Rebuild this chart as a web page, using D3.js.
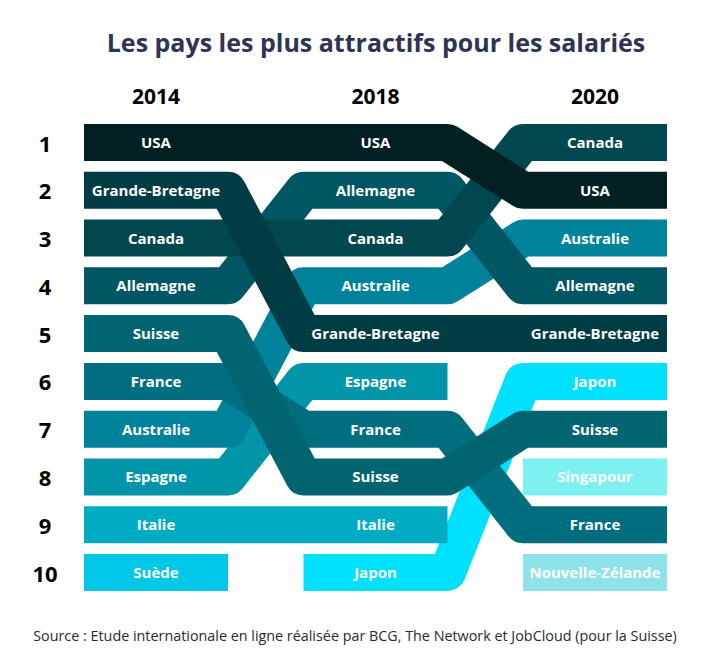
<!DOCTYPE html>
<html>
<head>
<meta charset="utf-8">
<script src="https://cdn.jsdelivr.net/npm/d3@7"></script>
<style>
body { margin: 0; background: #fff; }
text { font-family: "Open Sans", sans-serif; }
</style>
</head>
<body>
<svg id="chart" width="710" height="660"></svg>
<script>
var years = ["2014", "2018", "2020"];
var ranks = [1, 2, 3, 4, 5, 6, 7, 8, 9, 10];

// rank per year, null = not in the top 10. drawn back to front
var japon = [null, 10, 6];
var suede = [10, null, null];
var singapour = [null, null, 8];
var nouvelle_zelande = [null, null, 10];
var italie = [9, 9, null];
var espagne = [8, 6, null];
var australie = [7, 4, 3];
var france = [6, 7, 9];
var suisse = [5, 8, 7];
var allemagne = [4, 2, 4];
var canada = [3, 3, 1];
var grande_bretagne = [2, 5, 5];
var usa = [1, 1, 2];

var ribbons = [
    {name: "Japon", rank: japon, color: "#00e0ff"},
    {name: "Suède", rank: suede, color: "#00c8e6"},
    {name: "Singapour", rank: singapour, color: "#7df0f0"},
    {name: "Nouvelle-Zélande", rank: nouvelle_zelande, color: "#8ee3ea"},
    {name: "Italie", rank: italie, color: "#00abc3"},
    {name: "Espagne", rank: espagne, color: "#0095a8"},
    {name: "Australie", rank: australie, color: "#00829a"},
    {name: "France", rank: france, color: "#006e7e"},
    {name: "Suisse", rank: suisse, color: "#006471"},
    {name: "Allemagne", rank: allemagne, color: "#005662"},
    {name: "Canada", rank: canada, color: "#00474f"},
    {name: "Grande-Bretagne", rank: grande_bretagne, color: "#003c43"},
    {name: "USA", rank: usa, color: "#021f22"}
];

var svg = d3.select("#chart");
var band_width = 144;
var band_height = 37;

var x = d3.scalePoint().domain(years).range([156, 595]);
var y = d3.scalePoint().domain(ranks).range([142.5, 572.5]);

svg.append("text")
    .attr("x", 376).attr("y", 51.5)
    .attr("text-anchor", "middle")
    .attr("font-size", 25).attr("font-weight", 700)
    .attr("fill", "#2e3552")
    .text("Les pays les plus attractifs pour les salariés");

svg.selectAll("text.year")
    .data(years)
    .enter().append("text")
    .attr("class", "year")
    .attr("x", function(d) { return x(d); })
    .attr("y", 103.5)
    .attr("text-anchor", "middle")
    .attr("font-size", 21).attr("font-weight", 700)
    .attr("fill", "#000")
    .text(function(d) { return d; });

svg.selectAll("text.rank")
    .data(ranks)
    .enter().append("text")
    .attr("class", "rank")
    .attr("x", 45)
    .attr("y", function(d) { return y(d) + 9; })
    .attr("text-anchor", "middle")
    .attr("font-size", 22).attr("font-weight", 700)
    .attr("fill", "#000")
    .text(function(d) { return d; });

var line = d3.line()
    .x(function(d) { return d[0]; })
    .y(function(d) { return d[1]; });

// one centre line per ribbon, bend on each block end
function ribbon_points(rank) {
    var pts = [];
    rank.forEach(function(r, i) {
        if (r === null) return;
        pts.push([x(years[i]) - band_width / 2, y(r)]);
        pts.push([x(years[i]) + band_width / 2, y(r)]);
    });
    return pts;
}

svg.selectAll("path.ribbon")
    .data(ribbons)
    .enter().append("path")
    .attr("class", "ribbon")
    .attr("fill", "none")
    .attr("stroke", function(d) { return d.color; })
    .attr("stroke-width", band_height)
    .attr("stroke-linejoin", "round")
    .attr("d", function(d) { return line(ribbon_points(d.rank)); });

ribbons.forEach(function(d) {
    d.rank.forEach(function(r, i) {
        if (r === null) return;
        svg.append("text")
            .attr("x", x(years[i]))
            .attr("y", y(r) + 5.5)
            .attr("text-anchor", "middle")
            .attr("font-size", 15).attr("font-weight", 700)
            .attr("fill", "#fff")
            .text(d.name);
    });
});

svg.append("text")
    .attr("x", 355).attr("y", 641)
    .attr("text-anchor", "middle")
    .attr("font-size", 14.35)
    .attr("fill", "#2a2a2a")
    .text("Source : Etude internationale en ligne réalisée par BCG, The Network et JobCloud (pour la Suisse)");
</script>
</body>
</html>
